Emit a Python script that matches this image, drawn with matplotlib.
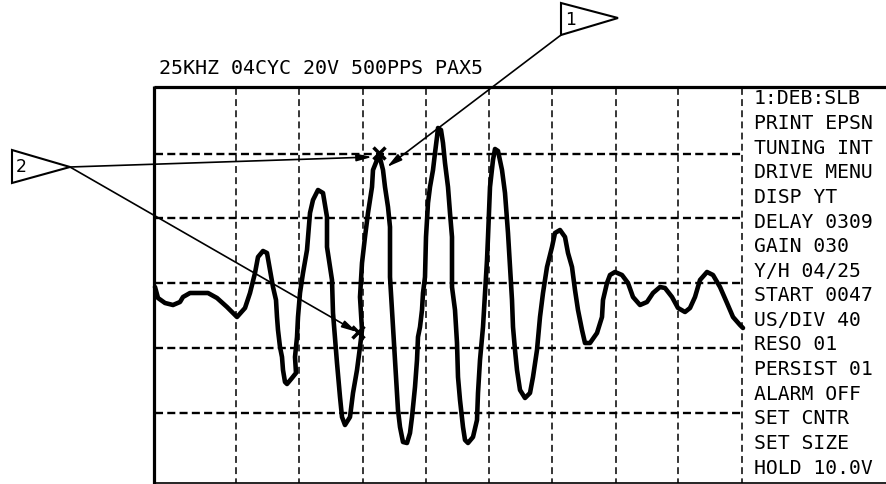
import numpy as np
import matplotlib.pyplot as plt
from matplotlib.patches import Polygon

# screen header and side menu
header = '25KHZ 04CYC 20V 500PPS PAX5'
menu = ['1:DEB:SLB', 'PRINT EPSN', 'TUNING INT', 'DRIVE MENU', 'DISP YT',
        'DELAY 0309', 'GAIN 030', 'Y/H 04/25', 'START 0047', 'US/DIV 40',
        'RESO 01', 'PERSIST 01', 'ALARM OFF', 'SET CNTR', 'SET SIZE', 'HOLD 10.0V']

# graticule (screen pixels)
grid_x = [236, 299, 363, 426, 489, 552, 616, 678, 742]
grid_y = [154, 218, 283, 348, 413]

# waveform
trace_x = [155, 158, 165, 173, 180, 183, 190, 208, 217, 227, 237, 245, 250, 255, 258, 263,
           267, 270, 273, 276, 277, 278, 280, 282, 283, 285, 287, 292, 296, 295, 297, 298,
           300, 303, 307, 310, 313, 318, 323, 327, 327, 332, 333, 337, 340, 342, 345, 350,
           353, 357, 360, 362, 360, 362, 365, 368, 372, 373, 377, 380, 383, 385, 388, 390,
           390, 392, 395, 397, 398, 400, 403, 407, 410, 412, 415, 417, 418, 420, 422, 423,
           425, 426, 428, 430, 433, 435, 437, 438, 441, 443, 445, 448, 450, 452, 452, 455,
           457, 458, 460, 463, 465, 468, 473, 477, 478, 480, 483, 485, 487, 488, 490, 493,
           495, 498, 502, 505, 508, 510, 512, 513, 515, 517, 520, 525, 530, 533, 537, 540,
           543, 547, 552, 555, 560, 565, 568, 572, 575, 578, 582, 585, 590, 597, 602, 603,
           607, 610, 615, 622, 628, 633, 640, 647, 653, 660, 665, 672, 678, 685, 690, 695,
           700, 707, 713, 720, 727, 733, 740, 743]
trace_y = [287, 298, 303, 305, 302, 297, 293, 293, 298, 307, 317, 308, 293, 273, 257, 251,
           253, 270, 287, 300, 317, 330, 347, 357, 370, 382, 384, 378, 373, 357, 337, 317,
           293, 273, 250, 213, 200, 190, 193, 217, 247, 280, 313, 363, 397, 417, 425, 417,
           393, 370, 347, 330, 297, 263, 237, 213, 187, 170, 160, 158, 170, 187, 207, 227,
           277, 310, 360, 393, 410, 427, 442, 443, 433, 417, 387, 360, 337, 327, 310, 293,
           277, 237, 203, 187, 170, 153, 137, 128, 130, 143, 163, 187, 213, 237, 287, 310,
           343, 377, 400, 427, 440, 443, 437, 420, 393, 360, 327, 293, 260, 237, 187, 160,
           149, 151, 170, 193, 233, 267, 300, 327, 350, 370, 390, 398, 393, 377, 350, 317,
           293, 267, 247, 233, 230, 237, 253, 267, 290, 310, 330, 343, 343, 333, 317, 300,
           283, 275, 272, 275, 283, 297, 305, 302, 293, 287, 288, 297, 308, 312, 308, 297,
           280, 272, 275, 287, 303, 317, 325, 328]

# marked points and callout flags
marks_x = [379, 358]
marks_y = [153, 332]
flag1 = [(561, 3), (618, 18), (561, 35)]
flag2 = [(12, 150), (70, 167), (12, 183)]
arrows = [((561, 35), (387, 167)), ((70, 167), (372, 157)), ((70, 167), (357, 332))]

fig = plt.figure(figsize=(8.87, 4.84), dpi=100)
ax = fig.add_axes([0, 0, 1, 1])
ax.set_xlim(0, 887)
ax.set_ylim(484, 0)
ax.axis('off')

# frame
ax.plot([154, 887], [87, 87], color='black', lw=2.3, solid_capstyle='butt')
ax.plot([154, 154], [86, 484], color='black', lw=2.3, solid_capstyle='butt')
ax.plot([154, 887], [483, 483], color='black', lw=1.2)

for gx in grid_x:
    ax.plot([gx, gx], [88, 483], color='black', lw=1.1, dashes=(4.5, 2.8))
for gy in grid_y:
    ax.plot([155, 742], [gy, gy], color='black', lw=1.7, dashes=(3.4, 1.8))

ax.plot(trace_x, trace_y, color='black', lw=3.3, solid_joinstyle='round',
        solid_capstyle='round')

ax.plot(marks_x, marks_y, linestyle='none', marker='x', color='black',
        markersize=9, markeredgewidth=2.5)

for start, end in arrows:
    ax.annotate('', xy=end, xytext=start,
                arrowprops=dict(arrowstyle='-|>,head_length=0.9,head_width=0.22',
                                color='black', lw=1.2, shrinkA=0, shrinkB=0))

for pts, lab in [(flag1, '1'), (flag2, '2')]:
    ax.add_patch(Polygon(pts, closed=True, fill=False, edgecolor='black', lw=1.5))
    ax.text(pts[0][0] + 4, (pts[0][1] + pts[2][1]) / 2 + 1, lab, fontsize=12.5,
            family='DejaVu Sans', ha='left', va='center')

ax.text(159, 68, header, fontsize=14.4, family='DejaVu Sans Mono',
        ha='left', va='center')

for i, line in enumerate(menu):
    ax.text(754, 99 + i * 24.6, line, fontsize=14.2, family='DejaVu Sans Mono',
            ha='left', va='center')

fig.savefig('out.png', dpi=100)
